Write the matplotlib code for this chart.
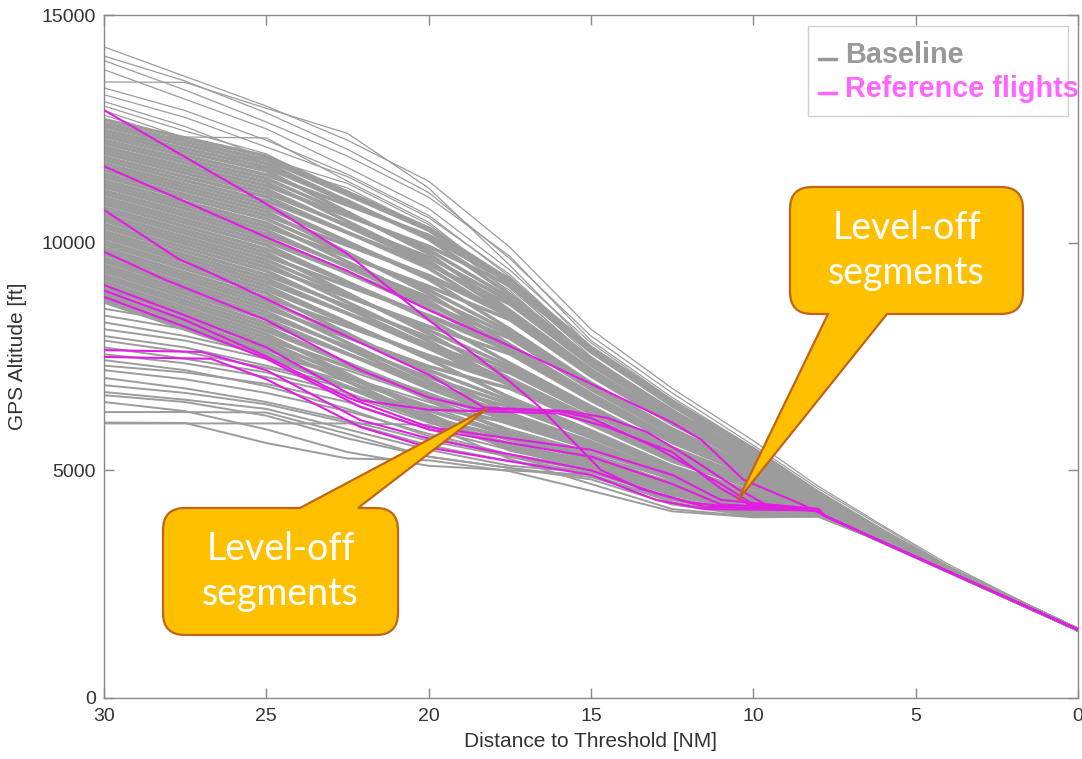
import matplotlib
matplotlib.use("Agg")
import matplotlib.pyplot as plt
from matplotlib.path import Path
from matplotlib.patches import PathPatch, Rectangle

plt.rcParams["font.family"] = ["Liberation Sans", "DejaVu Sans"]

### --- Data (distance to threshold [NM], GPS altitude [ft]) --- ###
threshold_alt = 1500

# upper, sparse baseline flights
grey_upper_x = [30, 27.5, 25, 22.5, 20, 17.5, 15, 12.5, 10, 8, 6, 4]
grey_upper_alt = [
    [14300, 13650, 13000, 12250, 11350, 9900, 8100, 6800, 5650, 4650, 3780, 2940],
    [14100, 13550, 12850, 12050, 11100, 9650, 7950, 6700, 5550, 4600, 3750, 2900],
    [14000, 13350, 12650, 11900, 11000, 9700, 7850, 6600, 5500, 4550, 3700, 2880],
    [13800, 13150, 12500, 11650, 10750, 9400, 7800, 6550, 5450, 4500, 3660, 2860],
    [13530, 13520, 12950, 12400, 11200, 9500, 7700, 6500, 5400, 4480, 3640, 2850],
    [13400, 12900, 12250, 11500, 10600, 9250, 7600, 6450, 5350, 4450, 3620, 2840],
    [13250, 12750, 12100, 11450, 10550, 9300, 7650, 6400, 5300, 4400, 3600, 2830],
    [13100, 12550, 11850, 11300, 10400, 9100, 7500, 6300, 5250, 4380, 3580, 2820],
    [13000, 12450, 11950, 11050, 10250, 9000, 7450, 6350, 5200, 4350, 3560, 2810],
    [12900, 12300, 11750, 11200, 10300, 8900, 7400, 6250, 5150, 4330, 3540, 2800],
    [12800, 12250, 11600, 10950, 10100, 8950, 7350, 6200, 5100, 4300, 3520, 2800],
    [12320, 12320, 12300, 11350, 10450, 9050, 7400, 6150, 5050, 4280, 3500, 2790],
]

# dense core of baseline flights
grey_core_x = [30, 25, 20, 17.5, 15, 12.5, 10, 8, 6, 4]
grey_core_alt = [
    [8700, 7500, 6160, 5710, 5240, 4610, 4220, 4080, 3430, 2790],
    [8770, 7580, 6080, 5500, 5100, 4500, 4150, 4060, 3420, 2780],
    [8850, 7660, 6400, 6050, 5480, 4800, 4340, 4120, 3450, 2790],
    [8920, 7750, 6160, 5560, 5150, 4530, 4170, 4070, 3420, 2780],
    [9000, 7830, 6320, 5770, 5290, 4650, 4250, 4090, 3440, 2790],
    [9070, 7910, 6640, 6190, 5580, 4870, 4390, 4140, 3460, 2800],
    [9140, 7990, 6240, 5450, 5060, 4470, 4140, 4060, 3420, 2780],
    [9220, 8070, 6640, 6120, 5530, 4830, 4370, 4130, 3460, 2790],
    [9290, 8150, 6560, 5840, 5340, 4690, 4270, 4100, 3440, 2790],
    [9370, 8230, 6880, 6390, 5720, 4980, 4460, 4160, 3480, 2800],
    [9440, 8320, 6800, 6150, 5560, 4850, 4380, 4130, 3460, 2790],
    [9510, 8400, 7040, 6460, 5770, 5020, 4490, 4170, 3480, 2800],
    [9590, 8480, 6880, 6220, 5600, 4890, 4400, 4150, 3470, 2800],
    [9660, 8560, 7280, 6800, 6010, 5200, 4610, 4210, 3500, 2810],
    [9740, 8640, 6960, 6170, 5560, 4860, 4380, 4140, 3460, 2800],
    [9810, 8720, 7200, 6530, 5820, 5060, 4510, 4180, 3480, 2800],
    [9880, 8800, 7520, 6940, 6110, 5280, 4650, 4230, 3510, 2810],
    [9960, 8890, 7120, 6250, 5630, 4910, 4410, 4150, 3470, 2800],
    [10030, 8970, 7480, 6900, 6080, 5250, 4640, 4220, 3510, 2810],
    [10110, 9050, 7440, 6600, 5870, 5090, 4530, 4190, 3490, 2800],
    [10180, 9130, 7760, 7140, 6250, 5390, 4730, 4250, 3520, 2820],
    [10250, 9210, 7680, 6870, 6060, 5240, 4630, 4220, 3510, 2810],
    [10330, 9290, 7920, 7210, 6300, 5430, 4750, 4260, 3530, 2820],
    [10400, 9380, 7740, 6960, 6130, 5300, 4660, 4230, 3510, 2810],
    [10480, 9460, 8160, 7560, 6540, 5610, 4870, 4300, 3550, 2830],
    [10550, 9540, 7840, 6920, 6090, 5270, 4640, 4220, 3510, 2810],
    [10620, 9620, 8080, 7280, 6350, 5460, 4770, 4270, 3530, 2820],
    [10700, 9700, 8400, 7690, 6640, 5680, 4920, 4320, 3560, 2830],
    [10770, 9780, 8000, 7010, 6160, 5310, 4680, 4240, 3510, 2810],
    [10850, 9860, 8380, 7620, 6590, 5650, 4890, 4310, 3550, 2830],
    [10920, 9950, 8320, 7350, 6400, 5500, 4800, 4280, 3540, 2820],
    [10990, 10030, 8640, 7900, 6780, 5800, 4990, 4340, 3570, 2830],
    [11070, 10110, 8560, 7650, 6610, 5660, 4900, 4310, 3550, 2830],
    [11140, 10190, 8800, 7970, 6830, 5830, 5010, 4350, 3580, 2830],
    [11220, 10270, 8660, 7720, 6660, 5700, 4930, 4320, 3560, 2830],
    [11290, 10350, 9040, 8310, 7070, 6020, 5130, 4390, 3600, 2840],
    [11360, 10430, 8720, 7670, 6620, 5670, 4910, 4310, 3550, 2830],
    [11440, 10520, 8960, 8040, 6880, 5870, 5040, 4360, 3580, 2840],
    [11510, 10600, 9280, 8450, 7160, 6090, 5180, 4400, 3610, 2850],
    [11590, 10680, 8880, 7760, 6680, 5720, 4940, 4320, 3560, 2830],
    [11660, 10760, 9250, 8380, 7120, 6050, 5160, 4400, 3600, 2840],
    [11730, 10840, 9200, 8100, 6920, 5910, 5060, 4360, 3580, 2840],
    [11810, 10920, 9520, 8650, 7310, 6200, 5250, 4430, 3620, 2850],
    [11880, 11010, 9440, 8350, 7100, 6040, 5150, 4390, 3600, 2840],
    [11960, 11090, 9680, 8720, 7360, 6240, 5280, 4440, 3620, 2850],
    [12030, 11170, 9550, 8480, 7190, 6100, 5190, 4410, 3610, 2850],
    [12100, 11250, 9920, 9060, 7600, 6420, 5400, 4480, 3640, 2860],
    [12180, 11330, 9600, 8420, 7140, 6070, 5170, 4400, 3600, 2840],
    [12250, 11410, 9840, 8790, 7400, 6280, 5300, 4440, 3630, 2850],
    [12330, 11490, 10160, 9200, 7690, 6500, 5450, 4490, 3650, 2860],
    [12400, 11580, 9760, 8510, 7210, 6130, 5210, 4410, 3610, 2850],
    [12470, 11660, 10120, 9130, 7640, 6460, 5420, 4480, 3650, 2860],
    [12550, 11740, 10080, 8860, 7450, 6310, 5330, 4450, 3630, 2850],
    [12620, 11820, 10280, 9150, 7670, 6480, 5440, 4490, 3650, 2860],
    [12700, 11900, 10320, 9180, 7700, 6520, 5470, 4500, 3650, 2860],
]

# lower baseline flights with level-offs at ~6000, ~5000 and ~4000 ft
grey_lower_x = [30, 27.5, 25, 22.5, 20, 17.5, 15, 12.5, 10, 8, 6, 4]
grey_lower_alt = [
    [6030, 6030, 6030, 6030, 6000, 5250, 4700, 4150, 3980, 3990, 3420, 2780],
    [6280, 6280, 6270, 5800, 5300, 5050, 4800, 4250, 4000, 4020, 3420, 2780],
    [6050, 6040, 5600, 5260, 5220, 4980, 4550, 4100, 3970, 3980, 3420, 2780],
    [6500, 6300, 5900, 5400, 5100, 5000, 4900, 4300, 4000, 4000, 3420, 2780],
    [6650, 6500, 6200, 5700, 5300, 5050, 4850, 4350, 4020, 4010, 3420, 2780],
    [6720, 6550, 6350, 5900, 5450, 5100, 4950, 4400, 4050, 4030, 3420, 2780],
    [6870, 6700, 6450, 6050, 5550, 5200, 4980, 4500, 4100, 4050, 3430, 2780],
    [7030, 6800, 6500, 6100, 5650, 5300, 5000, 4450, 4080, 4060, 3430, 2780],
    [7200, 7000, 6700, 6300, 5800, 5350, 5050, 4550, 4150, 4070, 3430, 2780],
    [7300, 7150, 6900, 6500, 5900, 5450, 5100, 4600, 4200, 4080, 3430, 2790],
    [7420, 7200, 6850, 6350, 5750, 5300, 4900, 4350, 4050, 4060, 3430, 2780],
    [7550, 7350, 7050, 6650, 6050, 5500, 5150, 4650, 4250, 4090, 3440, 2790],
    [7700, 7450, 7150, 6700, 6100, 5600, 5200, 4700, 4250, 4100, 3440, 2790],
    [7850, 7600, 7250, 6800, 6200, 5650, 5250, 4750, 4300, 4110, 3440, 2790],
    [7950, 7700, 7300, 6850, 6300, 5750, 5300, 4650, 4200, 4080, 3430, 2790],
    [8100, 7850, 7450, 6950, 6400, 5800, 5350, 4800, 4300, 4110, 3440, 2790],
    [8250, 7950, 7550, 7050, 6500, 5900, 5400, 4850, 4350, 4120, 3440, 2790],
    [8400, 8100, 7700, 7200, 6600, 6000, 5450, 4900, 4380, 4130, 3450, 2790],
    [8550, 8250, 7850, 7300, 6700, 6050, 5500, 4900, 4400, 4140, 3450, 2790],
]

# reference flights (magenta)
ref_x = [
    [30, 27.5, 25, 22.5, 20, 17.5, 16.6, 14.7, 13.5, 12, 10.5, 8, 7.8],
    [30, 27.5, 25, 22.5, 20, 17.5, 15, 12.5, 11.6, 10.3, 8.5, 7.5],
    [30, 27.7, 26.7, 22.1, 20, 18.3, 15.7, 14.5, 13.3, 12, 10.5, 9.5, 8, 7.8],
    [30, 28.1, 25, 22.1, 20, 18.5, 16, 15, 13, 11, 10, 8, 7.8],
    [30, 27.5, 25, 22.1, 20, 16, 14.5, 12.5, 11, 10, 8, 7.8],
    [30, 27.5, 25, 22.1, 20, 17.5, 15, 12.5, 11, 8, 7.8],
    [30, 27.5, 25, 22.5, 20, 17.5, 15, 12.5, 11, 8, 7.8],
    [30, 27, 25, 22.1, 20, 17.5, 15, 13, 11.5, 8, 7.8],
    [30, 26.7, 25, 22.1, 20, 17.5, 15, 13, 11.5, 8, 7.8],
]
ref_alt = [
    [12910, 11880, 10850, 9750, 8300, 6950, 6400, 5010, 4600, 4300, 4180, 4120, 4000],
    [11680, 10900, 10120, 9380, 8520, 7730, 6900, 6050, 5670, 4790, 4250, 3900],
    [10720, 9640, 9330, 7800, 7100, 6380, 6300, 6150, 5850, 5300, 4600, 4200, 4100, 4000],
    [9800, 9180, 8300, 7200, 6600, 6350, 6300, 6150, 5500, 4700, 4250, 4120, 4000],
    [9070, 8400, 7700, 6540, 6330, 6250, 5950, 5400, 4600, 4200, 4150, 4000],
    [8810, 8150, 7450, 6390, 5900, 5600, 5300, 4700, 4250, 4150, 4000],
    [8950, 8300, 7500, 6600, 5950, 5700, 5450, 4900, 4350, 4150, 4000],
    [7640, 7600, 7200, 6100, 5700, 5350, 5000, 4500, 4200, 4150, 4000],
    [7490, 7450, 7000, 5950, 5500, 5200, 4900, 4350, 4150, 4120, 4000],
]
glide_x = [7.8, 6, 4, 2, 0]
glide_alt = [4000, 3420, 2780, 2140, 1500]

### --- Figure --- ###
W, H = 1082, 759
fig = plt.figure(figsize=(W / 100, H / 100), dpi=100)
ax = fig.add_axes([104 / W, 1 - 698 / H, 974 / W, 683 / H])

grey = "#9c9c9c"
for xs, rows, lw in [(grey_upper_x, grey_upper_alt, 0.9),
                     (grey_lower_x, grey_lower_alt, 1.4),
                     (grey_core_x, grey_core_alt, 2.6)]:
    for row in rows:
        ax.plot(xs + [0], row + [threshold_alt], color=grey, lw=lw, zorder=2,
                solid_joinstyle="round")

for xs, alts in zip(ref_x, ref_alt):
    tail = [i for i, gx in enumerate(glide_x) if gx < xs[-1]]
    ax.plot(xs + [glide_x[i] for i in tail], alts + [glide_alt[i] for i in tail],
            color="#e31ce3", lw=1.5, zorder=3)

ax.set_xlim(30, 0)
ax.set_ylim(0, 15000)
ax.set_xticks([30, 25, 20, 15, 10, 5, 0])
ax.set_yticks([0, 5000, 10000, 15000])
ax.tick_params(direction="in", length=7, width=1, top=True, right=True,
               color="#888888", labelcolor="#333333", labelsize=14)
ax.tick_params(axis="x", pad=7)
ax.tick_params(axis="y", pad=6)
for s in ax.spines.values():
    s.set_color("#888888")
    s.set_linewidth(1)
ax.set_xlabel("Distance to Threshold [NM]", fontsize=15, color="#333333", labelpad=5)
ax.set_ylabel("GPS Altitude [ft]", fontsize=15, color="#333333", labelpad=10)

# overlay in pixel coordinates for legend and callouts
ov = fig.add_axes([0, 0, 1, 1])
ov.set_xlim(0, W)
ov.set_ylim(H, 0)
ov.axis("off")
ov.set_zorder(5)


def callout(box, r, base, tip, side):
    x0, y0, x1, y1 = box
    b0, b1 = base
    verts, codes = [], []

    def ln(p):
        verts.append(p)
        codes.append(Path.LINETO)

    def cv(c, p):
        verts.extend([c, p])
        codes.extend([Path.CURVE3, Path.CURVE3])

    verts.append((x0 + r, y0))
    codes.append(Path.MOVETO)
    if side == "top":
        ln((b0, y0)); ln(tip); ln((b1, y0))
    ln((x1 - r, y0)); cv((x1, y0), (x1, y0 + r))
    ln((x1, y1 - r)); cv((x1, y1), (x1 - r, y1))
    if side == "bottom":
        ln((b1, y1)); ln(tip); ln((b0, y1))
    ln((x0 + r, y1)); cv((x0, y1), (x0, y1 - r))
    ln((x0, y0 + r)); cv((x0, y0), (x0 + r, y0))
    verts.append((0, 0))
    codes.append(Path.CLOSEPOLY)
    ov.add_patch(PathPatch(Path(verts, codes), facecolor="#ffc000",
                           edgecolor="#c0651a", lw=1.6, zorder=5))
    cx = (x0 + x1) / 2
    ov.text(cx, y0 + 52, "Level-off", ha="center", va="baseline", fontsize=27,
            color="white", family="Lato", zorder=6)
    ov.text(cx, y0 + 97, "segments", ha="center", va="baseline", fontsize=27,
            color="white", family="Lato", zorder=6)


callout((163, 508, 398, 635), 22, (300, 358), (488, 408), "top")
callout((790, 187, 1023, 314), 22, (828, 887), (738, 500), "bottom")

# legend
ov.add_patch(Rectangle((808, 26), 260, 90, facecolor="white", edgecolor="#cfcfcf", lw=1, zorder=4))
ov.plot([819, 836], [59, 59], color="#999999", lw=2.5, zorder=6)
ov.text(845, 63, "Baseline", ha="left", va="baseline", fontsize=20.8, fontweight="bold",
        color="#999999", zorder=6)
ov.plot([819, 836], [93, 93], color="#ff66ff", lw=2.5, zorder=6)
ov.text(845, 97, "Reference flights", ha="left", va="baseline", fontsize=20.8,
        fontweight="bold", color="#ff66ff", zorder=6)

fig.savefig("out.png", dpi=100)
